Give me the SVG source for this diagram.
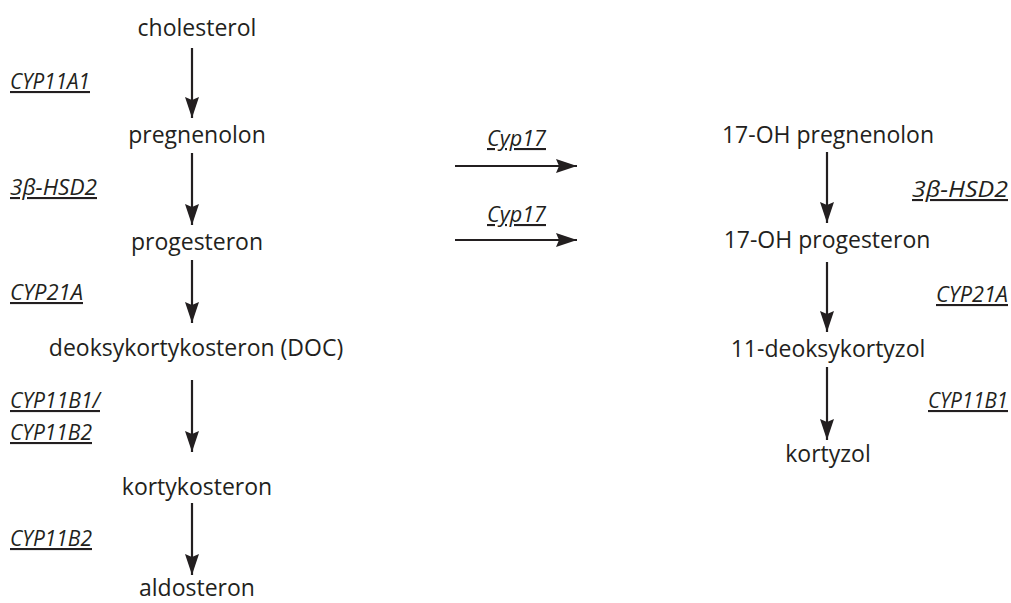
<svg xmlns="http://www.w3.org/2000/svg" width="1011" height="603" viewBox="0 0 1011 603">
<defs>
<marker id="ah" markerUnits="userSpaceOnUse" markerWidth="24" markerHeight="16" viewBox="-22 -8 24 16" refX="0" refY="0" orient="auto">
<path d="M-21,-7 L0,0 L-21,7 L-18,0 Z" fill="#231f20"/>
</marker>
<style>
.n{font-family:"Open Sans","Noto Sans",sans-serif;font-size:23px;fill:#231f20;text-anchor:middle}
.e{font-family:"Open Sans","Noto Sans",sans-serif;font-size:21px;font-style:italic;fill:#231f20;text-decoration:underline}
.c{stroke:#231f20;stroke-width:2.2;fill:none;marker-end:url(#ah)}
</style>
</defs>
<rect width="1011" height="603" fill="#ffffff"/>
<g id="connectors">
<line class="c" x1="192" y1="48" x2="192" y2="118"/>
<line class="c" x1="192" y1="153" x2="192" y2="225"/>
<line class="c" x1="192" y1="260" x2="192" y2="323"/>
<line class="c" x1="192" y1="380" x2="192" y2="452"/>
<line class="c" x1="192" y1="503" x2="192" y2="575"/>
<line class="c" x1="455" y1="166" x2="577" y2="166"/>
<line class="c" x1="455" y1="240" x2="577" y2="240"/>
<line class="c" x1="827" y1="152" x2="827" y2="223"/>
<line class="c" x1="827" y1="262" x2="827" y2="332"/>
<line class="c" x1="827" y1="367" x2="827" y2="440"/>
</g>
<g id="cholesterol"><text class="n" x="197" y="36">cholesterol</text></g>
<g id="pregnenolon"><text class="n" x="197" y="143">pregnenolon</text></g>
<g id="progesteron"><text class="n" x="197" y="250">progesteron</text></g>
<g id="doc"><text class="n" x="196" y="356">deoksykortykosteron (DOC)</text></g>
<g id="kortykosteron"><text class="n" x="197" y="495">kortykosteron</text></g>
<g id="aldosteron"><text class="n" x="197" y="596">aldosteron</text></g>
<g id="oh-pregnenolon"><text class="n" x="828" y="143">17-OH pregnenolon</text></g>
<g id="oh-progesteron"><text class="n" x="827" y="248">17-OH progesteron</text></g>
<g id="deoksykortyzol"><text class="n" x="828" y="357">11-deoksykortyzol</text></g>
<g id="kortyzol"><text class="n" x="828" y="462">kortyzol</text></g>
<g id="enzymes">
<text class="e" x="10" y="89" textLength="80" lengthAdjust="spacingAndGlyphs">CYP11A1</text>
<text class="e" x="10" y="195" textLength="87" lengthAdjust="spacingAndGlyphs">3β-HSD2</text>
<text class="e" x="10" y="300" textLength="73" lengthAdjust="spacingAndGlyphs">CYP21A</text>
<text class="e" x="10" y="408" textLength="90" lengthAdjust="spacingAndGlyphs">CYP11B1/</text>
<text class="e" x="10" y="440" textLength="82" lengthAdjust="spacingAndGlyphs">CYP11B2</text>
<text class="e" x="10" y="546" textLength="82" lengthAdjust="spacingAndGlyphs">CYP11B2</text>
<text class="e" x="487" y="146" textLength="59" lengthAdjust="spacingAndGlyphs">Cyp17</text>
<text class="e" x="487" y="222" textLength="59" lengthAdjust="spacingAndGlyphs">Cyp17</text>
<text class="e" x="912" y="197" textLength="96" lengthAdjust="spacingAndGlyphs">3β-HSD2</text>
<text class="e" x="936" y="302" textLength="72" lengthAdjust="spacingAndGlyphs">CYP21A</text>
<text class="e" x="928" y="408" textLength="80" lengthAdjust="spacingAndGlyphs">CYP11B1</text>
</g>
</svg>
